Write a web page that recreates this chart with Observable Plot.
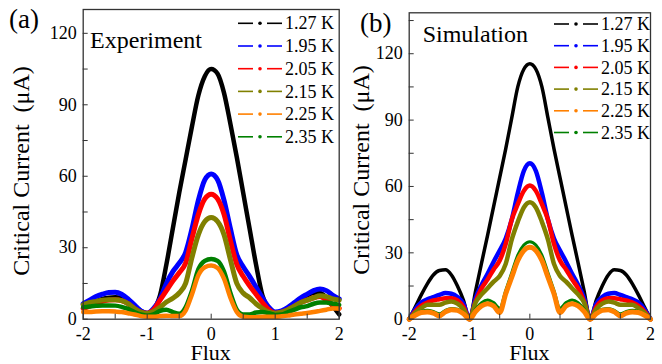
<!DOCTYPE html>
<html><head><meta charset="utf-8">
<script src="https://cdn.jsdelivr.net/npm/d3@7"></script>
<script src="https://cdn.jsdelivr.net/npm/@observablehq/plot@0.6"></script>
<style>
html,body{margin:0;padding:0;background:#fff;}
#wrap{position:relative;width:662px;height:364px;display:flex;overflow:hidden;}
svg{display:block;}
</style></head><body><div id="wrap"></div>
<script>
// ---- data ----
const fluxGrid = [-2,-1.9,-1.8,-1.7,-1.6,-1.5,-1.4,-1.3,-1.2,-1.1,-1,-0.9,-0.8,-0.7,-0.6,-0.5,-0.4,-0.3,-0.2,-0.1,0,0.1,0.2,0.3,0.4,0.5,0.6,0.7,0.8,0.9,1,1.1,1.2,1.3,1.4,1.5,1.6,1.7,1.8,1.9,2];
const temps = ["1.27 K","1.95 K","2.05 K","2.15 K","2.25 K","2.35 K"];
const colors = ["#000000","#0000ff","#ff0000","#808000","#ff8000","#008000"];
// Experiment
const exp127 = [6,7,7.5,8.5,9,9.2,9,7.5,5.5,3.5, 2.5, 4,10,23,38,53,67,81,94,102, 105, 103,95,82,68,53,38,23,10,4,2, 2.5,4,6.5,8.5,10,11,11,9,5.5,2];
const exp195 = [6.5,8,9.5,10.5,11.2,11.3,10.5,8.5,6,3.5, 2.5, 4.5,8.5,15,20,23.5,28,38,50,58.5, 61, 58.5,50,38,27,22,18,13.5,9,5,3, 3.5,5,7,9,10.5,12,12.7,12,10,8.5];
const exp205 = [4.5,5.5,6.5,7.5,8,8.2,7.8,6.5,4.5,3, 2.5, 4,8,12,16,19.5,23.5,34,44,50.5, 52.5, 50.5,44,33,23,18,14,10.5,7,4,2.5, 3,4,5.5,7,8,9,9.5,8,6,4.5];
const exp215 = [6,7,7.5,8,8.2,8.2,7.8,6.5,4.5,3, 2.4, 3.2,5,7.2,8.8,11,15,26,35.5,41, 42.7, 41,35.5,25,15,11,9,6.5,4.5,3,2.5, 3,4,5.5,7,8,9,9.8,9.5,8.5,8];
const exp225 = [3,3,3.2,3.3,3.3,3.2,3,2.5,2,1.3, 1, 1,1.3,1.5,1.3,1.3,3.6,10.5,18.5,21.8, 22.5, 21.5,17,9,3,1,0.8,0.8,1,1,1, 1.2,1.5,2,2.3,2.6,3,3.5,4,4.5,4.5];
const exp235 = [5,5.3,5.6,5.8,5.8,5.7,5.2,4.3,3,2, 1.5, 2,3.5,4,3,2.3,5,12,21,24.5, 25.3, 24.5,20,11,4,2,2,2.8,3,2.5,1.8, 2,3,4,5,5.5,6.5,7,7,6.5,6];
// Simulation
const sim127 = [0,5.5,11,16,20,22,22.3,20,15,8.5, 0, 12.7,25.5,38,51,64,77,91,105,113, 115.5, 113,105,91,77,64,51,38,25.5,12.7,0, 8.5,15,20,22.3,22,20,16,11,5.5,0];
const sim195 = [0,4.5,7.5,9,10,11,11.8,11.5,10,7, 0, 9.5,15.5,20.5,26,31,36.5,45,57,67, 70.5, 67,57,45,36.5,31,26,20.5,15.5,9.5,0, 7,10,11.5,11.8,11,10,9,7.5,4.5,0];
const sim205 = [0,3.5,6,7.5,8.5,9,9.5,9.5,8.5,5.5, 0, 8,14,18,22.5,26.5,34,45,52,58, 60.4, 58,52,45,34,26.5,22.5,18,14,8,0, 5.5,8.5,9.5,9.5,9,8.5,7.5,6,3.5,0];
const sim215 = [0,3,5,6.5,6.5,6.5,7.5,8,7,4.5, 0, 7.5,11.2,14,17,19.5,25,36,44,50.5, 52.9, 50.5,44,36,25,19.5,17,14,11.2,7.5,0, 4.5,7,8,7.5,6.5,6.5,6.5,5,3,0];
const sim225 = [0,1.8,3,3.3,2.8,1.5,3.3,4.3,4,2.5, 0, 3.5,6,7,6,3,11.5,19,26.5,31, 32.5, 31,26.5,19,11.5,3,6,7,6,3.5,0, 2.5,4,4.3,3.3,1.5,2.8,3.3,3,1.8,0];
const sim235 = [0,2,3.5,4,3.5,2.5,4,4.8,4.5,3, 0, 4.5,7.5,8.7,7.5,5,13,21,29,33.5, 35, 33.5,29,21,13,5,7.5,8.7,7.5,4.5,0, 3,4.5,4.8,4,2.5,3.5,4,3.5,2,0];
const xTickLabels = [-2,-1,0,1,2];
const xTickAll = [-2,-1.5,-1,-0.5,0,0.5,1,1.5,2];
const yTickLabels = [0,30,60,90,120];

const FONT = '"Liberation Serif","Times New Roman",serif';
const fmt = d => d < 0 ? "-" + Math.abs(d) : String(d);
const toRows = vals => fluxGrid.map((f, i) => ({flux: f, I: vals[i]}));

function panel(o) {
  const lines = o.order.map(k => Plot.line(toRows(o.series[k]), {
    x: "flux", y: "I", stroke: colors[k], strokeWidth: o.widths[k], curve: "monotone-x"
  }));
  const plot = Plot.plot({
    width: o.width, height: 364,
    marginLeft: o.ml, marginRight: o.mr, marginTop: o.mt, marginBottom: o.mb,
    style: {fontFamily: FONT, fontSize: "18px", color: "#000", background: "transparent", overflow: "visible"},
    x: {domain: [-2, 2], label: null},
    y: {domain: [0, o.ymax], label: null},
    marks: [
      ...lines,
      Plot.frame({stroke: "#333", strokeWidth: 1.3}),
      Plot.axisX({ticks: xTickAll, tickSize: 5, dy: -5, tickFormat: () => "", label: null, stroke: "#333"}),
      Plot.axisY({ticks: o.yTicksAll, tickSize: 5, dx: 5, tickFormat: () => "", label: null, stroke: "#333"}),
      Plot.axisX({ticks: xTickLabels, tickSize: 0, tickPadding: 8.5, tickFormat: fmt, label: null, fontSize: 18}),
      Plot.axisY({ticks: yTickLabels, tickSize: 0, tickPadding: 6.5, tickFormat: fmt, label: null, fontSize: 18})
    ]
  });
  const svg = d3.select(plot);
  const fx = o.ml + (o.width - o.ml - o.mr) / 2;
  svg.append("text").attr("x", fx).attr("y", 360).attr("text-anchor", "middle")
    .attr("font-size", 22).attr("font-family", FONT).text("Flux");
  svg.append("text").attr("transform", `translate(${o.ytx},${o.yty}) rotate(-90)`)
    .attr("text-anchor", "middle").attr("font-size", 24).attr("font-family", FONT)
    .text("Critical Current\u00a0 (\u03bcA)");
  svg.append("text").attr("x", o.tagX).attr("y", o.tagY).attr("text-anchor", "start")
    .attr("font-size", 27).attr("font-family", FONT).text(o.tag);
  svg.append("text").attr("x", o.nameX).attr("y", o.nameY).attr("text-anchor", "start")
    .attr("font-size", 24).attr("font-family", FONT).text(o.name);
  const lg = svg.append("g");
  temps.forEach((t, i) => {
    const cy = o.lgY + o.lgDy * i;
    const g = lg.append("g");
    g.append("line").attr("x1", o.lgX).attr("x2", o.lgX + 15).attr("y1", cy).attr("y2", cy).attr("stroke", colors[i]).attr("stroke-width", 1.6);
    g.append("line").attr("x1", o.lgX + 29).attr("x2", o.lgX + 44).attr("y1", cy).attr("y2", cy).attr("stroke", colors[i]).attr("stroke-width", 1.6);
    g.append("circle").attr("cx", o.lgX + 22).attr("cy", cy).attr("r", 1.8).attr("fill", colors[i]);
    g.append("text").attr("x", o.lgX + 47).attr("y", cy).attr("dy", "0.34em").attr("text-anchor", "start")
      .attr("font-size", 18).attr("font-family", FONT).text(t);
  });
  return plot;
}

const wrap = document.getElementById("wrap");
wrap.appendChild(panel({
  width: 345, ml: 82.7, mr: 6.3, mt: 9, mb: 45.3, ymax: 130,
  yTicksAll: [0,15,30,45,60,75,90,105,120],
  series: [exp127, exp195, exp205, exp215, exp225, exp235],
  order: [0,1,2,3,5,4], widths: [4.5,5,5,5,4.5,4.5],
  ytx: 29, yty: 171, tag: "(a)", tagX: 9, tagY: 28, name: "Experiment", nameX: 90, nameY: 48,
  lgX: 238, lgY: 23.3, lgDy: 22.7
}));
wrap.appendChild(panel({
  width: 317, ml: 63.7, mr: 12, mt: 12.3, mb: 45.3, ymax: 138.5,
  yTicksAll: [0,15,30,45,60,75,90,105,120,135],
  series: [sim127, sim195, sim205, sim215, sim225, sim235],
  order: [0,1,2,3,5,4], widths: [3.5,4.5,4.5,4.5,5,3],
  ytx: 24, yty: 170, tag: "(b)", tagX: 15, tagY: 32, name: "Simulation", nameX: 77.7, nameY: 41.7,
  lgX: 209, lgY: 24, lgDy: 21.7
}));
</script></body></html>
